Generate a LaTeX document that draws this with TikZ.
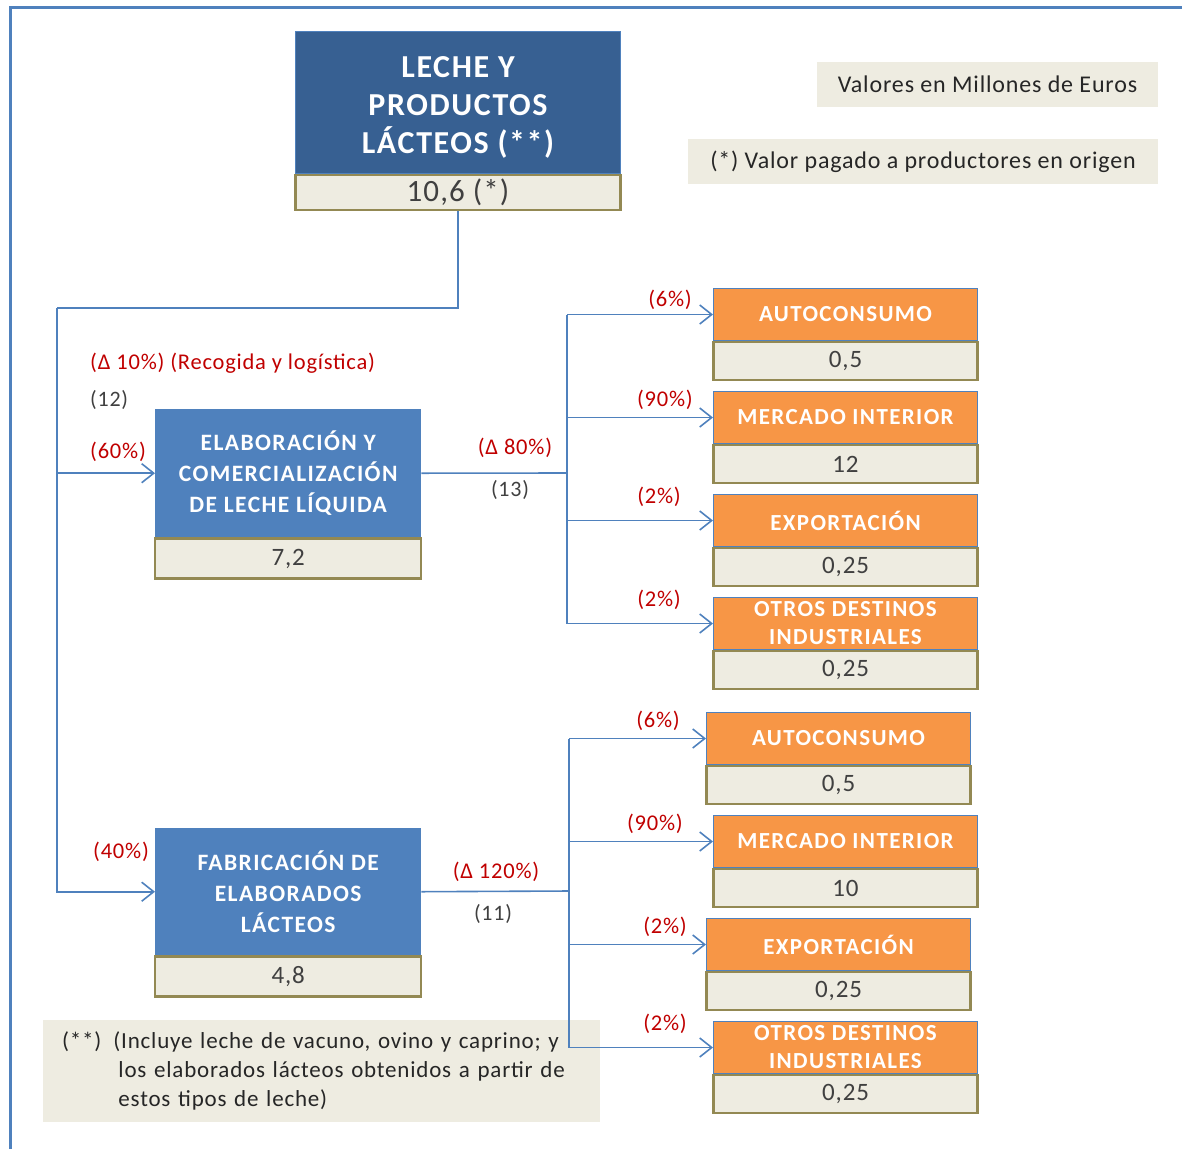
\documentclass[tikz,border=0pt]{standalone}
\usepackage{fontspec}
\setmainfont{Carlito}[LetterSpace=3.5]
\usepackage{xcolor}
\definecolor{topblue}{HTML}{376092}
\definecolor{midblue}{HTML}{4F81BD}
\definecolor{orng}{HTML}{F79646}
\definecolor{beige}{HTML}{EEECE1}
\definecolor{olive}{HTML}{938953}
\definecolor{redlbl}{HTML}{C00000}
\definecolor{txtgray}{HTML}{404040}
\usepackage{tikz}
\usetikzlibrary{arrows.meta,positioning}
\tikzset{flow/.style={draw=midblue,line width=1.6pt},arr/.style={flow,-{Straight Barb[length=12pt,width=19pt]}},pct/.style={font=\fontsize{22.5}{26}\selectfont,text=redlbl,inner sep=0pt},num/.style={font=\fontsize{22}{26}\selectfont,text=txtgray,inner sep=0pt},note/.style={fill=beige,font=\fontsize{24}{29}\selectfont,text=black!85,inner sep=0pt}}

\begin{document}
\begin{tikzpicture}[x=1pt,y=-1pt,
hdr/.style={anchor=north west,inner sep=0pt,align=center,text=white,font=\bfseries\fontsize{23.5}{31}\selectfont\addfontfeatures{LetterSpace=6}},
valbar/.style={anchor=north,fill=beige,draw=olive,line width=2.4pt,inner sep=0pt,font=\fontsize{25}{28}\selectfont,text=txtgray},
dest/.style={hdr,fill=orng,draw=midblue,line width=1pt,minimum width=264pt,minimum height=52pt,font=\bfseries\fontsize{23}{28}\selectfont\addfontfeatures{LetterSpace=6}}]
\useasboundingbox (0,0) rectangle (1182,1149);
\draw[midblue,line width=3pt] (10,1149) |- (1182,7);
\node[hdr,fill=topblue,draw=midblue,line width=1pt,minimum width=325pt,minimum height=142pt,font=\bfseries\fontsize{32}{38}\selectfont\addfontfeatures{LetterSpace=5}] (leche) at (295,31) {\rule{0pt}{31pt}LECHE Y\\PRODUCTOS\\LÁCTEOS (**)};
\node[valbar,minimum width=325pt,minimum height=35pt,font=\fontsize{31}{34}\selectfont] (lecheval) at (leche.south) {10,6 (*)};
\node[hdr,fill=midblue,minimum width=266pt,minimum height=128pt] (elab) at (155,409) {ELABORACIÓN Y\\COMERCIALIZACIÓN\\DE LECHE LÍQUIDA};
\node[valbar,minimum width=266pt,minimum height=40pt] (elabval) at (elab.south) {7,2};
\node[hdr,fill=midblue,minimum width=266pt,minimum height=127pt] (fab) at (155,828) {FABRICACIÓN DE\\ELABORADOS\\LÁCTEOS};
\node[valbar,minimum width=266pt,minimum height=40pt] (fabval) at (fab.south) {4,8};
\foreach \n/\x/\y/\ttl/\val/\px/\py/\p in {a1/713/288/AUTOCONSUMO/{0,5}/692/300/6,a2/713/391/MERCADO INTERIOR/12/693/400/90,
a3/713/494/EXPORTACIÓN/{0,25}/681/497/2,a4/713/597/{OTROS DESTINOS\\INDUSTRIALES}/{0,25}/681/600/2,
b1/706/712/AUTOCONSUMO/{0,5}/680/721/6,b2/713/815/MERCADO INTERIOR/10/683/824/90,
b3/706/918/EXPORTACIÓN/{0,25}/687/927/2,b4/713/1021/{OTROS DESTINOS\\INDUSTRIALES}/{0,25}/687/1024/2}
{\node[dest] (\n) at (\x,\y) {\ttl};
\node[valbar,minimum width=264pt,minimum height=38pt] (v\n) at (\n.south) {\val};
\node[pct,anchor=east] (p\n) at (\px,\py) {(\p\%)};}
\node[pct,anchor=west] (recog) at (90,363) {(Δ 10\%) (Recogida y logística)};
\node[num,anchor=west] (n12) at (90,400) {(12)};
\node[pct,anchor=west] (p60) at (90,452) {(60\%)};\node[pct,anchor=west] (p40) at (93,852) {(40\%)};
\node[pct] (d80) at (515,448) {(Δ 80\%)};\node[num] (n13) at (510,490) {(13)};
\node[pct] (d120) at (496,872) {(Δ 120\%)};\node[num] (n11) at (493,914) {(11)};
\node[note,minimum width=341pt,minimum height=45pt] (valores) at (987.5,84.5) {Valores en Millones de Euros};
\node[note,minimum width=470pt,minimum height=45pt] (origen) at (923,161.5) {(*) Valor pagado a productores en origen};
\node[note,anchor=north west,text width=519pt,inner xsep=19pt,minimum height=102pt,font=\fontsize{23}{29}\selectfont] (nota) at (43,1020) {\begin{tabular}{@{}l@{\hspace{12pt}}l@{}}(**)&(Incluye leche de vacuno, ovino y caprino; y\\&\hspace{5pt}los elaborados lácteos obtenidos a partir de\\&\hspace{5pt}estos tipos de leche)\end{tabular}};
\coordinate (split) at (57,308);\coordinate (busA) at (567,473);\coordinate (busB) at (569,891);
\draw[flow] (lecheval.south) |- (split);
\draw[arr] (split) |- (fab.west);
\draw[arr] (split |- elab.west) -- (elab.west);
\draw[flow] (elab.east) -- (busA);\draw[flow] (busA |- a1.west) -- (busA |- a4.west);
\foreach \n in {a1,a2,a3,a4}{\draw[arr] (busA |- \n.west) -- (\n.west);}
\draw[flow] (fab.east) -- (busB);\draw[flow] (busB |- b1.west) -- (busB |- b4.west);
\foreach \n in {b1,b2,b3,b4}{\draw[arr] (busB |- \n.west) -- (\n.west);}
\end{tikzpicture}
\end{document}
